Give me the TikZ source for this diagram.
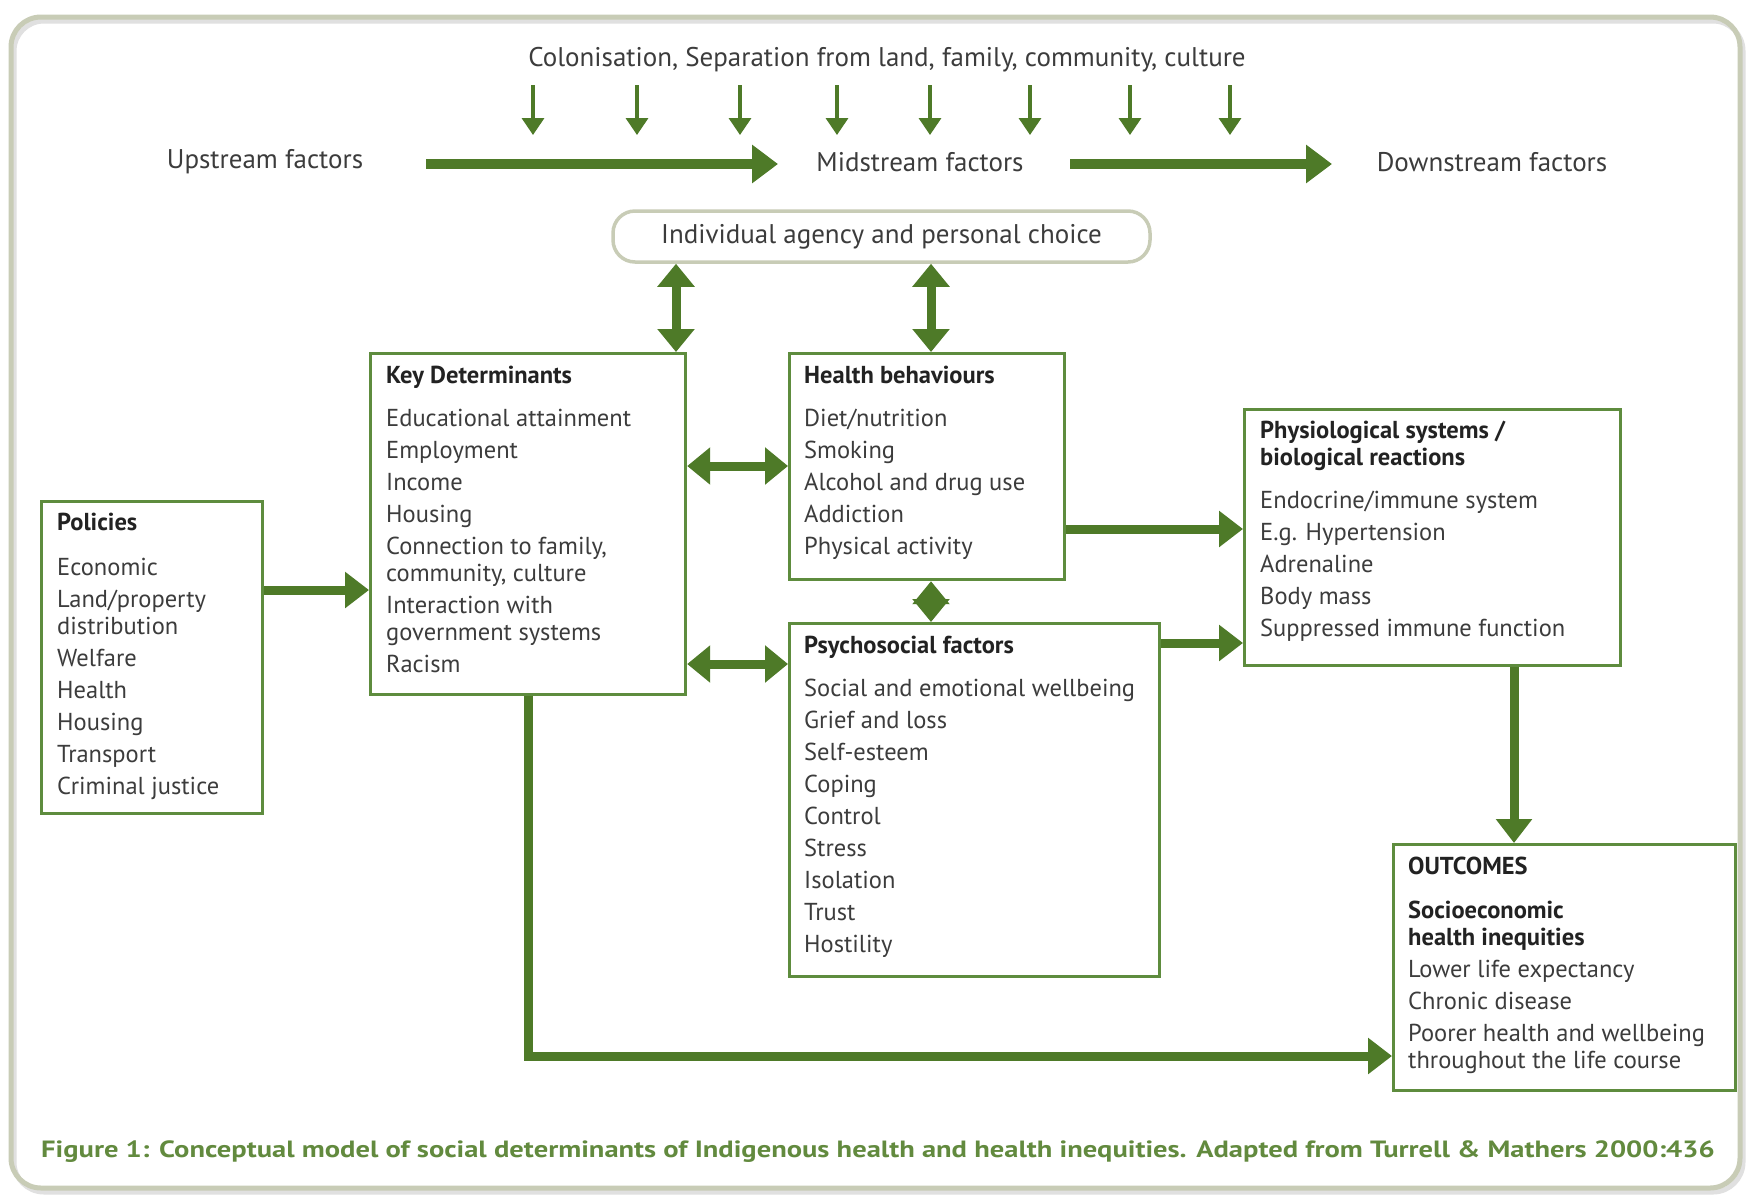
\documentclass[tikz,border=0pt]{standalone}
\usepackage{fontspec}
\setmainfont{PT Sans}
\newfontfamily\capfont{PT Sans}[FakeStretch=1.214]
\usetikzlibrary{arrows.meta,calc}
\definecolor{agreen}{HTML}{4E7A28}
\definecolor{bgreen}{HTML}{5E8C3E}
\definecolor{framec}{HTML}{C8CCB6}
\definecolor{txt}{HTML}{3C3C3C}
\definecolor{ttl}{HTML}{222222}
\definecolor{capc}{HTML}{628A3E}
\begin{document}
\begin{tikzpicture}[x=1pt,y=-1pt,
  box/.style={draw=bgreen, line width=3.2pt, inner sep=0pt, anchor=north west},
  boxtext/.style={anchor=north west, inner sep=0pt, align=left, text=txt, font=\fontsize{24.5}{27}\selectfont},
  plain/.style={text=txt, font=\fontsize{27}{30}\selectfont, inner sep=0pt},
  bigarrow/.style={draw=agreen, line width=10pt, -{Triangle[width=37pt,length=26pt]}},
  fatarrow/.style={draw=agreen, line width=9pt, -{Triangle[width=35pt,length=24pt]}},
  dblarrow/.style={draw=agreen, line width=9pt, {Triangle[width=36pt,length=23pt]}-{Triangle[width=36pt,length=23pt]}},
  smallarrow/.style={draw=agreen, line width=3.5pt, -{Triangle[width=22pt,length=17pt]}},
]
\useasboundingbox (0,0) rectangle (1747,1203);
\fill[white] (0,0) rectangle (1747,1203);
% outer frame with faint shadow
\draw[black!12, line width=5pt, rounded corners=30pt] (14,21) rectangle (1743,1192);
\draw[framec, line width=5pt, rounded corners=30pt] (11,17) rectangle (1740,1188);

% top row
\node[plain] (colon) at (887,60) {Colonisation, Separation from land, family, community, culture};
\foreach \x in {533,637,740,837,930,1030,1130,1230}
  \draw[smallarrow] (\x,85) -- (\x,135);
\node[plain] (up) at (265,162) {Upstream factors};
\node[plain] (mid) at (920,162) {Midstream factors};
\node[plain] (down) at (1492,162) {Downstream factors};
\coordinate (u1) at (426,164);
\coordinate (u2) at (778,164);
\coordinate (m1) at (1070,164);
\coordinate (m2) at (1332,164);
\draw[bigarrow] (u1) -- (u2);
\draw[bigarrow] (m1) -- (m2);

% individual agency
\node[draw=framec, line width=3.5pt, rounded corners=22pt, minimum width=537pt, minimum height=51pt, inner sep=0pt, text=txt, font=\fontsize{27}{30}\selectfont] (ia) at (881.5,236.5) {Individual agency and personal choice};

% boxes
\node[box, minimum width=315pt, minimum height=341pt] (kd) at (369,352) {};
\node[box, minimum width=275pt, minimum height=226pt] (hb) at (788,352) {};
\node[box, minimum width=370pt, minimum height=353pt] (ps) at (788,622) {};
\node[box, minimum width=376pt, minimum height=256pt] (ph) at (1243,408) {};
\node[box, minimum width=221pt, minimum height=312pt] (po) at (40,500) {};
\node[box, minimum width=342pt, minimum height=246pt] (oc) at (1392,843) {};

% box texts
\node[boxtext] (kdt) at (386,366) {\textcolor{ttl}{\bfseries Key Determinants}\\[16pt]
Educational attainment\\[5pt]
Employment\\[5pt]
Income\\[5pt]
Housing\\[5pt]
Connection to family,\\
community, culture\\[5pt]
Interaction with\\
government systems\\[5pt]
Racism};

\node[boxtext] (hbt) at (804,366) {\textcolor{ttl}{\bfseries Health behaviours}\\[16pt]
Diet/nutrition\\[5pt]
Smoking\\[5pt]
Alcohol and drug use\\[5pt]
Addiction\\[5pt]
Physical activity};

\node[boxtext] (pst) at (804,636) {\textcolor{ttl}{\bfseries Psychosocial factors}\\[16pt]
Social and emotional wellbeing\\[5pt]
Grief and loss\\[5pt]
Self-esteem\\[5pt]
Coping\\[5pt]
Control\\[5pt]
Stress\\[5pt]
Isolation\\[5pt]
Trust\\[5pt]
Hostility};

\node[boxtext] (pht) at (1260,421) {\textcolor{ttl}{\bfseries Physiological systems /}\\
\textcolor{ttl}{\bfseries biological reactions}\\[16pt]
Endocrine/immune system\\[5pt]
E.g. Hypertension\\[5pt]
Adrenaline\\[5pt]
Body mass\\[5pt]
Suppressed immune function};

\node[boxtext] (pot) at (57,513) {\textcolor{ttl}{\bfseries Policies}\\[18pt]
Economic\\[5pt]
Land/property\\
distribution\\[5pt]
Welfare\\[5pt]
Health\\[5pt]
Housing\\[5pt]
Transport\\[5pt]
Criminal justice};

\node[boxtext] (oct) at (1408,857) {\textcolor{ttl}{\bfseries OUTCOMES}\\[17pt]
\textcolor{ttl}{\bfseries Socioeconomic}\\
\textcolor{ttl}{\bfseries health inequities}\\[5pt]
Lower life expectancy\\[5pt]
Chronic disease\\[5pt]
Poorer health and wellbeing\\
throughout the life course};

% connectors
\draw[dblarrow] (ia.south -| 676,0) -- (kd.north -| 676,0);
\draw[dblarrow] (ia.south -| 931,0) -- (hb.north -| 931,0);
\draw[dblarrow] (kd.east |- 0,466) -- (hb.west |- 0,466);
\draw[dblarrow] (kd.east |- 0,664) -- (ps.west |- 0,664);
\draw[dblarrow] (hb.south -| 931,0) -- (ps.north -| 931,0);
\draw[fatarrow] (po.east |- 0,590) -- (kd.west |- 0,590);
\draw[fatarrow] (hb.east |- 0,529) -- (ph.west |- 0,529);
\draw[fatarrow] (ps.east |- 0,643) -- (ph.west |- 0,643);
\draw[fatarrow] (ph.south -| 1514,0) -- (oc.north -| 1514,0);
\draw[fatarrow] (kd.south -| 528,0) |- (oc.west |- 0,1056);

% caption
\node[text=capc, font=\capfont\fontsize{23.5}{26}\selectfont\bfseries, inner sep=0pt] (caption) at (878,1152) {Figure 1: Conceptual model of social determinants of Indigenous health and health inequities. Adapted from Turrell \& Mathers 2000:436};
\end{tikzpicture}
\end{document}
